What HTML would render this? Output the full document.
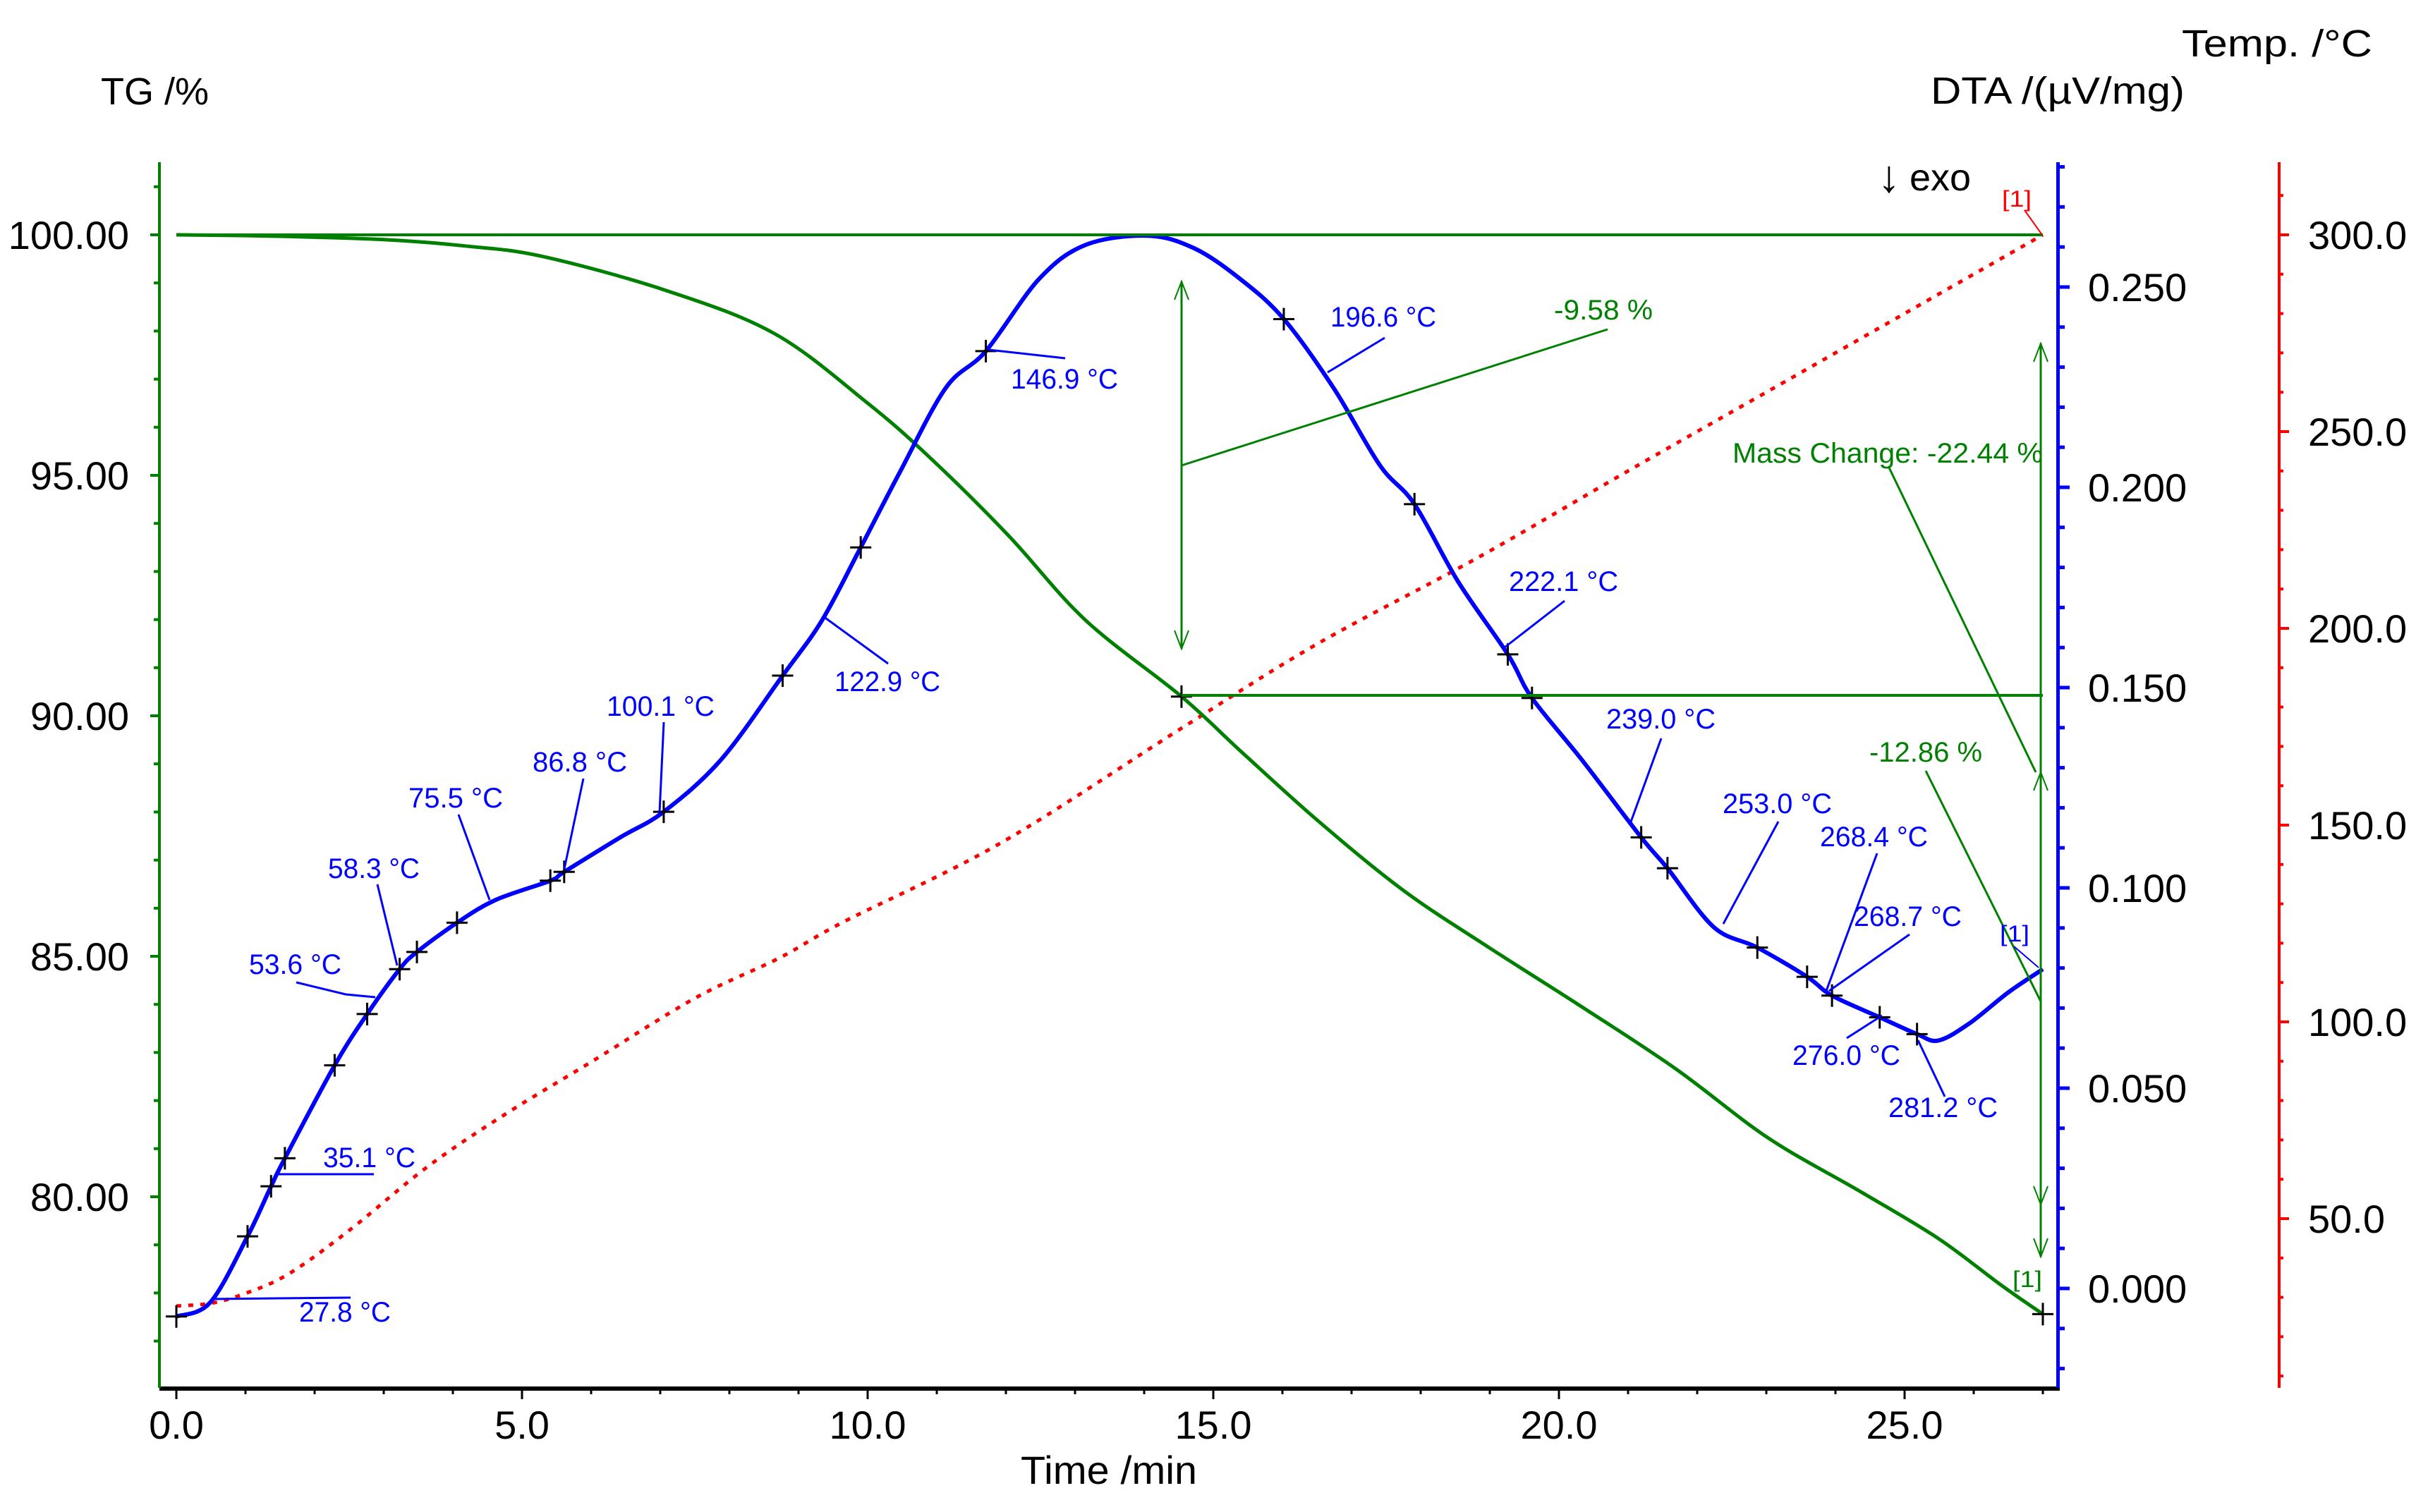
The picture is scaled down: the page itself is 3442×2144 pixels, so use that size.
<!DOCTYPE html>
<html><head><meta charset="utf-8">
<style>
html,body{margin:0;padding:0;background:#fff;}
svg{display:block;font-family:"Liberation Sans",Arial,sans-serif;}
</style></head>
<body>
<svg id="chart" width="3442" height="2144" viewBox="0 0 3442 2144" xmlns="http://www.w3.org/2000/svg">
<rect width="3442" height="2144" fill="#fff"/>
<g id="grid"></g>
<g id="series"></g>
<g id="annot"></g>
<g id="axes"></g>
</svg>
<script>
// ---- data ----
const tgTimes = [0,1.5,3.0,4.17,5.3,7.09,8.66,10.0,10.9,12.03,13.15,14.54,15.4,16.52,17.75,18.99,20.33,21.68,23.03,24.37,25.49,26.39,27.0];
const tgValues = [100,99.97,99.9,99.77,99.55,98.84,97.94,96.5,95.37,93.76,91.99,90.4,89.26,87.81,86.37,85.18,83.95,82.67,81.22,80.1,79.13,78.17,77.56];
const dtaTimes = [0,0.49,1.03,1.37,1.57,2.29,2.76,3.23,3.48,4.06,4.62,5.41,5.61,6.42,7.05,7.88,8.77,9.34,9.9,10.46,11.13,11.71,12.48,13.15,14.05,14.72,15.39,16.02,16.74,17.41,17.91,18.54,19.26,19.61,20.33,21.19,21.57,22.24,22.87,23.59,23.95,24.64,25.18,25.49,25.94,26.5,27.0];
const dtaValues = [-0.007,-0.0035,0.013,0.0255,0.0325,0.0557,0.0685,0.0797,0.084,0.0913,0.097,0.1018,0.104,0.1126,0.119,0.132,0.153,0.1668,0.185,0.2036,0.2248,0.234,0.252,0.2605,0.2628,0.2597,0.252,0.242,0.2248,0.2055,0.1958,0.1765,0.1583,0.1474,0.132,0.1126,0.1049,0.0902,0.0851,0.0778,0.0731,0.0677,0.0635,0.0619,0.0662,0.0739,0.0797];
const tempTimes = [0,0.5,1.0,1.63,2.5,3.65,4.8,6.0,7.5,8.73,9.64,11.93,14.53,16.5,18.83,21,23,25,27];
const tempValues = [27.8,28.5,31,36,47,63.4,77,89.8,106,116.3,125.3,145.5,174.5,196,218,240,260,280,300];
const markerTimes = [0,1.03,1.37,1.57,2.29,2.76,3.23,3.48,4.06,5.41,5.61,7.05,8.77,9.9,11.71,16.02,17.91,19.26,19.61,21.19,21.57,22.87,23.59,23.95,24.64,25.18];
const xTicks = [0,5,10,15,20,25];
const xTickLabels = ["0.0","5.0","10.0","15.0","20.0","25.0"];
const tgTicks = [80,85,90,95,100];
const tgTickLabels = ["80.00","85.00","90.00","95.00","100.00"];
const dtaTicks = [0,0.05,0.1,0.15,0.2,0.25];
const dtaTickLabels = ["0.000","0.050","0.100","0.150","0.200","0.250"];
const tempTicks = [50,100,150,200,250,300];
const tempTickLabels = ["50.0","100.0","150.0","200.0","250.0","300.0"];

// ---- scales ----
const X = t => 250 + t*98.0;
const YTG = v => 333 + (100 - v)*68.2;
const YD = d => 1827 - d*5680;
const YT = T => 333 + (300 - T)*5.58;
const TOP=230, BOT=1968, LX=226, BX=2917, RX=3231;
const NS="http://www.w3.org/2000/svg";
function mk(tag, attrs, parent){const e=document.createElementNS(NS,tag);for(const k in attrs)e.setAttribute(k,attrs[k]);(parent||document.getElementById('chart')).appendChild(e);return e;}
function interp(ts, vs, t){for(let i=0;i<ts.length-1;i++){if(t<=ts[i+1]){const f=(t-ts[i])/(ts[i+1]-ts[i]);return vs[i]+f*(vs[i+1]-vs[i]);}}return vs[vs.length-1];}
function smooth(pts){let d=`M${pts[0][0]},${pts[0][1]}`;for(let i=0;i<pts.length-1;i++){const p0=pts[Math.max(0,i-1)],p1=pts[i],p2=pts[i+1],p3=pts[Math.min(pts.length-1,i+2)];
const c1=[p1[0]+(p2[0]-p0[0])/6,p1[1]+(p2[1]-p0[1])/6],c2=[p2[0]-(p3[0]-p1[0])/6,p2[1]-(p3[1]-p1[1])/6];
d+=` C${c1[0].toFixed(1)},${c1[1].toFixed(1)} ${c2[0].toFixed(1)},${c2[1].toFixed(1)} ${p2[0].toFixed(1)},${p2[1].toFixed(1)}`;}return d;}
const S=document.getElementById('series'), A=document.getElementById('annot'), AX=document.getElementById('axes');

// ---- series ----
let p = mk('path',{d:smooth(tempTimes.map((t,i)=>[X(t),YT(tempValues[i])])),fill:'none',stroke:'#ff0000','stroke-width':5,'stroke-dasharray':'7 10'},S);


p = mk('path',{d:smooth(tgTimes.map((t,i)=>[X(t),YTG(tgValues[i])])),fill:'none',stroke:'#008000','stroke-width':5},S);


p = mk('path',{d:smooth(dtaTimes.map((t,i)=>[X(t),YD(dtaValues[i])])),fill:'none',stroke:'#0000ff','stroke-width':6},S);



function cross(x,y){const g=mk('path',{d:`M${x-15},${y}h30M${x},${y-16}v32`,stroke:'#000','stroke-width':3,fill:'none'},S);

}
markerTimes.forEach(t=>cross(X(t),YD(interp(dtaTimes,dtaValues,t))));
cross(X(14.54),YTG(interp(tgTimes,tgValues,14.54)));
cross(X(27),YTG(77.56));

// ---- annotations ----
function line(pts,color,w,name){const l=mk('polyline',{points:pts,fill:'none',stroke:color,'stroke-width':w},A);

}
function txt(x,y,s,color,size,len,name,anchor){const t=mk('text',{x:x,y:y,fill:color,'font-size':size},A);if(len){t.setAttribute('textLength',len);t.setAttribute('lengthAdjust','spacingAndGlyphs');}if(anchor)t.setAttribute('text-anchor',anchor);t.textContent=s;

return t;}
const G='#008000', B='#0000ff';
line(`${X(0)},333 ${X(27)},333`,G,4,'tg-reference-line-100');
line(`${X(14.54)},986 ${X(27)},986`,G,4,'tg-reference-line-step');
line(`1675,399 1675,920`,G,3,'mass-step-arrow-9-58');
line(`1665,425 1675,399 1685,425`,G,2,'arrow-head');
line(`1665,894 1675,920 1685,894`,G,2,'arrow-head');
line(`1675,660 2279,467`,G,3,'leader-9-58');
txt(2203,453,'-9.58 %',G,40,140,'mass-change-9-58-label');
line(`2893,487 2893,1782`,G,3,'mass-step-arrow-total');
[487,1095].forEach(y=>line(`2883,${y+26} 2893,${y} 2903,${y+26}`,G,2,'arrow-head'));
[1708,1782].forEach(y=>line(`2883,${y-26} 2893,${y} 2903,${y-26}`,G,2,'arrow-head'));
txt(2456,656,'Mass Change: -22.44 %',G,40,440,'mass-change-total-label');
line(`2677,661 2886,1095`,G,3,'leader-mass-change');
txt(2650,1080,'-12.86 %',G,40,160,'mass-change-12-86-label');
line(`2730,1093 2893,1420`,G,3,'leader-12-86');
txt(2853,1825,'[1]',G,32,42,'tg-end-marker-label');
txt(2838,293,'[1]','#ff0000',32,42,'temp-end-marker-label');
line(`2870,298 2895,333`,'#ff0000',2,'leader-temp-end');
txt(2835,1335,'[1]',B,32,42,'dta-end-marker-label');
line(`2855,1342 2890,1372`,B,2,'leader-dta-end');

const labels = [
 ['27.8 °C',424,1874,130,'299,1842 497,1840'],
 ['35.1 °C',458,1655,131,'391,1665 530,1665'],
 ['53.6 °C',353,1381,131,'420,1393 490,1410 532,1414'],
 ['58.3 °C',465,1245,130,'535,1254 563,1369'],
 ['75.5 °C',579,1145,134,'650,1155 694,1276'],
 ['86.8 °C',755,1094,134,'827,1104 800,1232'],
 ['100.1 °C',860,1015,153,'941,1024 935,1152'],
 ['122.9 °C',1183,980,150,'1167,874 1259,941'],
 ['146.9 °C',1433,551,152,'1402,496 1510,508'],
 ['196.6 °C',1886,463,150,'1882,528 1963,479'],
 ['222.1 °C',2139,838,155,'2133,918 2218,852'],
 ['239.0 °C',2277,1033,155,'2311,1168 2355,1047'],
 ['253.0 °C',2442,1153,155,'2443,1310 2521,1165'],
 ['268.4 °C',2580,1200,153,'2589,1405 2661,1210'],
 ['268.7 °C',2628,1313,153,'2593,1405 2707,1325'],
 ['276.0 °C',2541,1510,153,'2618,1472 2668,1440'],
 ['281.2 °C',2677,1584,155,'2719,1475 2757,1555']
];
labels.forEach(l=>{txt(l[1],l[2],l[0],B,40,l[3],'temp-label');line(l[4],B,3,'temp-label-leader');});

// ---- axes ----
let r = mk('rect',{x:LX,y:BOT-2,width:BX-LX+3,height:6,fill:'#000'},AX);


for(let t=0;t<=27;t++){const major=t%5===0;mk('line',{x1:X(t),y1:BOT+3,x2:X(t),y2:BOT+(major?16:9),stroke:'#000','stroke-width':3},AX);}
xTicks.forEach((t,i)=>{const e=txt(X(t),2040,xTickLabels[i],'#000',56,null,'x-tick-label','middle');AX.appendChild(e);});
let tt=txt(1572,2104,'Time /min','#000',56,250,'x-axis-title','middle');AX.appendChild(tt);

r = mk('rect',{x:LX-2,y:TOP,width:4,height:BOT-TOP,fill:G},AX);


for(let v=77;v<=101;v++){const major=v%5===0;mk('line',{x1:LX-(major?13:8),y1:YTG(v),x2:LX,y2:YTG(v),stroke:G,'stroke-width':4},AX);}
tgTicks.forEach((v,i)=>{const e=txt(183,YTG(v)+20,tgTickLabels[i],'#000',56,null,'tg-tick-label','end');AX.appendChild(e);});
tt=txt(143,148,'TG /%','#000',54,null,'tg-axis-title');AX.appendChild(tt);

r = mk('rect',{x:BX-2,y:TOP,width:5,height:BOT-TOP,fill:B},AX);


for(let k=-2;k<=28;k++){const d=k/100;const major=k%5===0;mk('line',{x1:BX,y1:YD(d),x2:BX+(major?17:10),y2:YD(d),stroke:B,'stroke-width':5},AX);}
dtaTicks.forEach((d,i)=>{const e=txt(2960,YD(d)+20,dtaTickLabels[i],'#000',56,null,'dta-tick-label');AX.appendChild(e);});
tt=txt(3097,147,'DTA /(µV/mg)','#000',54,360,'dta-axis-title','end');AX.appendChild(tt);
tt=txt(2662,272,'↓','#000',64,null,'exo-arrow');AX.appendChild(tt);
tt=txt(2707,270,'exo','#000',54,null,'exo-direction-label');AX.appendChild(tt);

r = mk('rect',{x:RX-2,y:TOP,width:4,height:BOT-TOP,fill:'#ff0000'},AX);


for(let T=10;T<=310;T+=10){const major=T%50===0;mk('line',{x1:RX,y1:YT(T),x2:RX+(major?14:6),y2:YT(T),stroke:'#ff0000','stroke-width':4},AX);}
tempTicks.forEach((T,i)=>{const e=txt(3272,YT(T)+20,tempTickLabels[i],'#000',56,null,'temp-tick-label');AX.appendChild(e);});
tt=txt(3363,80,'Temp. /°C','#000',54,270,'temperature-axis-title','end');AX.appendChild(tt);
</script>
</body></html>
